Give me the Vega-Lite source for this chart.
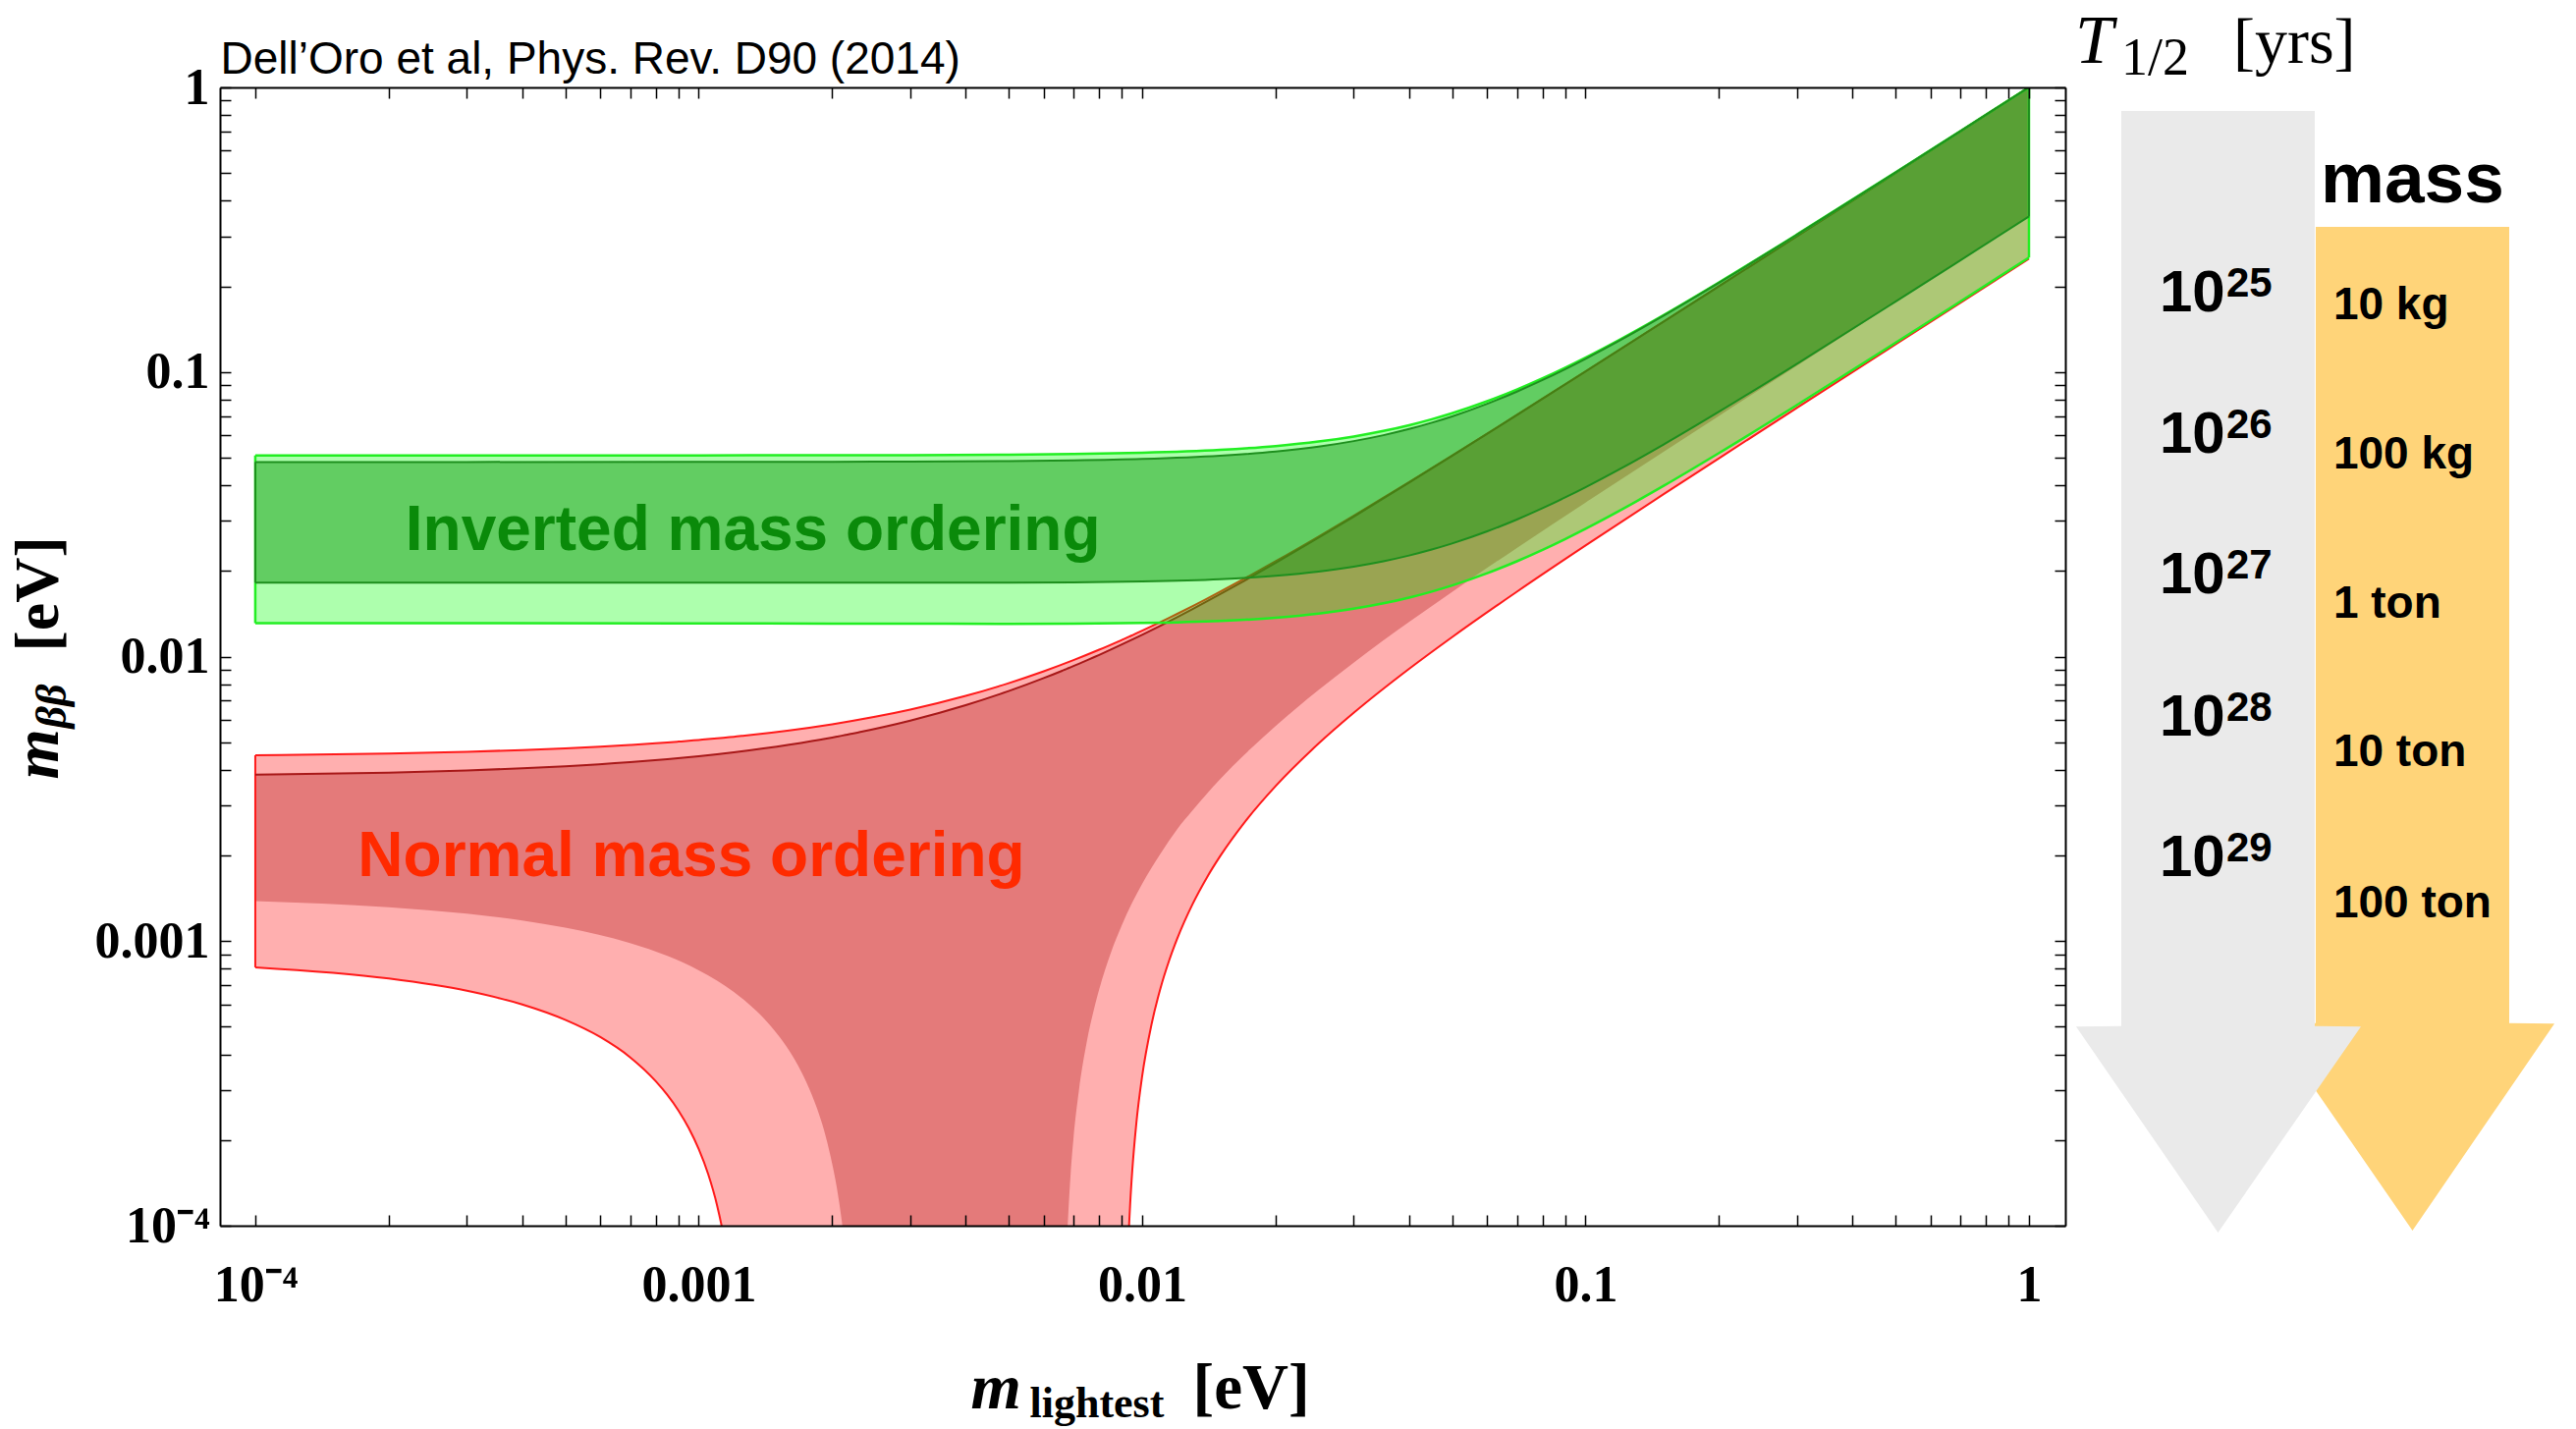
{
  "$schema": "https://vega.github.io/schema/vega-lite/v6.json",
  "width": 1879,
  "height": 1159,
  "autosize": {"type": "none"},
  "padding": {"left": 224, "top": 89, "right": 520, "bottom": 207},
  "background": "white",
  "config": {"axis": {"grid": false}, "view": {"stroke": null}},
  "datasets": {
    "noLight": [
      {"mLight": 0.0001, "lo": 0.000809, "hi": 0.0045},
      {"mLight": 0.0002, "lo": 0.000739, "hi": 0.004563},
      {"mLight": 0.0003, "lo": 0.000669, "hi": 0.004628},
      {"mLight": 0.0004, "lo": 0.000599, "hi": 0.004693},
      {"mLight": 0.0005, "lo": 0.000529, "hi": 0.004758},
      {"mLight": 0.0006, "lo": 0.00046, "hi": 0.004824},
      {"mLight": 0.0007, "lo": 0.000391, "hi": 0.004891},
      {"mLight": 0.0008, "lo": 0.000322, "hi": 0.004956},
      {"mLight": 0.00085, "lo": 0.000288, "hi": 0.00499},
      {"mLight": 0.0009, "lo": 0.000254, "hi": 0.005024},
      {"mLight": 0.00095, "lo": 0.00022, "hi": 0.005057},
      {"mLight": 0.001, "lo": 0.000186, "hi": 0.005092},
      {"mLight": 0.00105, "lo": 0.000152, "hi": 0.005125},
      {"mLight": 0.0011, "lo": 0.000118, "hi": 0.005159},
      {"mLight": 0.00115, "lo": 0.000084, "hi": 0.005193},
      {"mLight": 0.001175, "lo": 0.000067, "hi": 0.00521},
      {"mLight": 0.0012, "lo": 0.00005, "hi": 0.005227},
      {"mLight": 0.00125, "lo": 0.000017, "hi": 0.005261},
      {"mLight": 0.00127, "lo": 0.0000036, "hi": 0.005275},
      {"mLight": 0.0013, "lo": 0.000001, "hi": 0.005295},
      {"mLight": 0.0016, "lo": 0.000001, "hi": 0.005502},
      {"mLight": 0.002, "lo": 0.000001, "hi": 0.005783},
      {"mLight": 0.0025, "lo": 0.000001, "hi": 0.006143},
      {"mLight": 0.003, "lo": 0.000001, "hi": 0.006511},
      {"mLight": 0.004, "lo": 0.000001, "hi": 0.007272},
      {"mLight": 0.005, "lo": 0.000001, "hi": 0.008062},
      {"mLight": 0.006, "lo": 0.000001, "hi": 0.008876},
      {"mLight": 0.007, "lo": 0.000001, "hi": 0.009714},
      {"mLight": 0.008, "lo": 0.000001, "hi": 0.010569},
      {"mLight": 0.009, "lo": 0.000001, "hi": 0.011442},
      {"mLight": 0.0091, "lo": 0.000011, "hi": 0.011529},
      {"mLight": 0.0092, "lo": 0.000047, "hi": 0.011617},
      {"mLight": 0.0093, "lo": 0.000084, "hi": 0.011705},
      {"mLight": 0.0094, "lo": 0.00012, "hi": 0.011794},
      {"mLight": 0.0095, "lo": 0.000156, "hi": 0.011882},
      {"mLight": 0.0097, "lo": 0.000228, "hi": 0.01206},
      {"mLight": 0.01, "lo": 0.000335, "hi": 0.012326},
      {"mLight": 0.0105, "lo": 0.00051, "hi": 0.012774},
      {"mLight": 0.011, "lo": 0.000683, "hi": 0.013224},
      {"mLight": 0.0115, "lo": 0.000853, "hi": 0.013676},
      {"mLight": 0.012, "lo": 0.001021, "hi": 0.014131},
      {"mLight": 0.013, "lo": 0.001351, "hi": 0.015047},
      {"mLight": 0.014, "lo": 0.001674, "hi": 0.01597},
      {"mLight": 0.015, "lo": 0.00199, "hi": 0.016899},
      {"mLight": 0.017, "lo": 0.002609, "hi": 0.018774},
      {"mLight": 0.02, "lo": 0.003506, "hi": 0.021618},
      {"mLight": 0.025, "lo": 0.004946, "hi": 0.026413},
      {"mLight": 0.03, "lo": 0.006342, "hi": 0.031256},
      {"mLight": 0.04, "lo": 0.009054, "hi": 0.041027},
      {"mLight": 0.05, "lo": 0.011702, "hi": 0.050866},
      {"mLight": 0.07, "lo": 0.016897, "hi": 0.070656},
      {"mLight": 0.1, "lo": 0.024562, "hi": 0.100477},
      {"mLight": 0.15, "lo": 0.037201, "hi": 0.150325},
      {"mLight": 0.2, "lo": 0.049774, "hi": 0.200246},
      {"mLight": 0.3, "lo": 0.074848, "hi": 0.300165},
      {"mLight": 0.5, "lo": 0.124909, "hi": 0.500099},
      {"mLight": 0.7, "lo": 0.174935, "hi": 0.700071},
      {"mLight": 1, "lo": 0.249954, "hi": 1.00005}
    ],
    "noDark": [
      {"mLight": 0.0001, "lo": 0.001382, "hi": 0.003843},
      {"mLight": 0.0002, "lo": 0.001315, "hi": 0.003911},
      {"mLight": 0.0003, "lo": 0.001248, "hi": 0.00398},
      {"mLight": 0.0004, "lo": 0.0011814, "hi": 0.004048},
      {"mLight": 0.0005, "lo": 0.001115, "hi": 0.004117},
      {"mLight": 0.0007, "lo": 0.000985, "hi": 0.004257},
      {"mLight": 0.00085, "lo": 0.000887, "hi": 0.004362},
      {"mLight": 0.001, "lo": 0.00079, "hi": 0.004468},
      {"mLight": 0.0011, "lo": 0.0007264, "hi": 0.004539},
      {"mLight": 0.0012, "lo": 0.000663, "hi": 0.004611},
      {"mLight": 0.0013, "lo": 0.0005995, "hi": 0.004683},
      {"mLight": 0.0014, "lo": 0.000537, "hi": 0.004755},
      {"mLight": 0.0015, "lo": 0.0004739, "hi": 0.004827},
      {"mLight": 0.0016, "lo": 0.000412, "hi": 0.0049},
      {"mLight": 0.0017, "lo": 0.0003496, "hi": 0.004973},
      {"mLight": 0.0018, "lo": 0.000288, "hi": 0.005046},
      {"mLight": 0.0019, "lo": 0.000227, "hi": 0.005121},
      {"mLight": 0.002, "lo": 0.000165, "hi": 0.005195},
      {"mLight": 0.00205, "lo": 0.0001353, "hi": 0.005232},
      {"mLight": 0.0021, "lo": 0.000105, "hi": 0.005269},
      {"mLight": 0.00215, "lo": 0.0000748, "hi": 0.005307},
      {"mLight": 0.0022, "lo": 0.000045, "hi": 0.005345},
      {"mLight": 0.00225, "lo": 0.000014, "hi": 0.005382},
      {"mLight": 0.0023, "lo": 0.000001, "hi": 0.00542},
      {"mLight": 0.003, "lo": 0.000001, "hi": 0.005954},
      {"mLight": 0.004, "lo": 0.000001, "hi": 0.006746},
      {"mLight": 0.005, "lo": 0.000001, "hi": 0.007562},
      {"mLight": 0.006, "lo": 0.000001, "hi": 0.008401},
      {"mLight": 0.0066, "lo": 0.000001, "hi": 0.008914},
      {"mLight": 0.00665, "lo": 0.0000309, "hi": 0.0089573},
      {"mLight": 0.0067, "lo": 0.000056, "hi": 0.009},
      {"mLight": 0.00675, "lo": 0.0000798, "hi": 0.0090436},
      {"mLight": 0.0068, "lo": 0.000103, "hi": 0.009087},
      {"mLight": 0.0069, "lo": 0.0001528, "hi": 0.0091732},
      {"mLight": 0.007, "lo": 0.000202, "hi": 0.00926},
      {"mLight": 0.0072, "lo": 0.0002977, "hi": 0.0094339},
      {"mLight": 0.0075, "lo": 0.000442, "hi": 0.009696},
      {"mLight": 0.0078, "lo": 0.000583, "hi": 0.0099594},
      {"mLight": 0.008, "lo": 0.000676, "hi": 0.010136},
      {"mLight": 0.0085, "lo": 0.0009094, "hi": 0.0105792},
      {"mLight": 0.009, "lo": 0.001138, "hi": 0.011026},
      {"mLight": 0.01, "lo": 0.001588, "hi": 0.011928},
      {"mLight": 0.011, "lo": 0.0020272, "hi": 0.0128404},
      {"mLight": 0.012, "lo": 0.002474, "hi": 0.013762},
      {"mLight": 0.013, "lo": 0.0028808, "hi": 0.01469},
      {"mLight": 0.015, "lo": 0.003709, "hi": 0.016565},
      {"mLight": 0.017, "lo": 0.0045174, "hi": 0.0184598},
      {"mLight": 0.02, "lo": 0.005703, "hi": 0.021329},
      {"mLight": 0.025, "lo": 0.0076325, "hi": 0.0261575},
      {"mLight": 0.03, "lo": 0.009522, "hi": 0.031026},
      {"mLight": 0.04, "lo": 0.0132269, "hi": 0.0408371},
      {"mLight": 0.05, "lo": 0.016875, "hi": 0.050705},
      {"mLight": 0.07, "lo": 0.024079, "hi": 0.070533},
      {"mLight": 0.1, "lo": 0.034774, "hi": 0.100386},
      {"mLight": 0.15, "lo": 0.052477, "hi": 0.150263},
      {"mLight": 0.2, "lo": 0.070121, "hi": 0.2002},
      {"mLight": 0.3, "lo": 0.105346, "hi": 0.300134},
      {"mLight": 0.5, "lo": 0.175719, "hi": 0.500081},
      {"mLight": 0.7, "lo": 0.246063, "hi": 0.700057},
      {"mLight": 1, "lo": 0.35156, "hi": 1.00004}
    ],
    "ioLight": [
      {"mLight": 0.0001, "lo": 0.013098, "hi": 0.050905},
      {"mLight": 0.0003, "lo": 0.013092, "hi": 0.05091},
      {"mLight": 0.001, "lo": 0.013075, "hi": 0.050931},
      {"mLight": 0.002, "lo": 0.013056, "hi": 0.050977},
      {"mLight": 0.003, "lo": 0.013043, "hi": 0.051042},
      {"mLight": 0.005, "lo": 0.013035, "hi": 0.05123},
      {"mLight": 0.007, "lo": 0.01305, "hi": 0.051491},
      {"mLight": 0.01, "lo": 0.013116, "hi": 0.052022},
      {"mLight": 0.015, "lo": 0.013337, "hi": 0.053262},
      {"mLight": 0.02, "lo": 0.013687, "hi": 0.054921},
      {"mLight": 0.025, "lo": 0.014153, "hi": 0.056964},
      {"mLight": 0.03, "lo": 0.014722, "hi": 0.059353},
      {"mLight": 0.035, "lo": 0.01538, "hi": 0.06205},
      {"mLight": 0.04, "lo": 0.016115, "hi": 0.065016},
      {"mLight": 0.045, "lo": 0.016916, "hi": 0.068218},
      {"mLight": 0.05, "lo": 0.017773, "hi": 0.071625},
      {"mLight": 0.06, "lo": 0.019624, "hi": 0.078944},
      {"mLight": 0.07, "lo": 0.021615, "hi": 0.086796},
      {"mLight": 0.08, "lo": 0.02371, "hi": 0.09505},
      {"mLight": 0.09, "lo": 0.025882, "hi": 0.103611},
      {"mLight": 0.1, "lo": 0.028113, "hi": 0.11241},
      {"mLight": 0.12, "lo": 0.032703, "hi": 0.130524},
      {"mLight": 0.15, "lo": 0.039796, "hi": 0.158547},
      {"mLight": 0.2, "lo": 0.051912, "hi": 0.206489},
      {"mLight": 0.3, "lo": 0.076615, "hi": 0.304366},
      {"mLight": 0.5, "lo": 0.126612, "hi": 0.502632},
      {"mLight": 0.7, "lo": 0.176837, "hi": 0.701883},
      {"mLight": 1, "lo": 0.252306, "hi": 1.001319}
    ],
    "ioDark": [
      {"mLight": 0.0001, "lo": 0.0182, "hi": 0.048272},
      {"mLight": 0.0003, "lo": 0.018196, "hi": 0.048278},
      {"mLight": 0.001, "lo": 0.018183, "hi": 0.048303},
      {"mLight": 0.002, "lo": 0.018171, "hi": 0.048356},
      {"mLight": 0.003, "lo": 0.018167, "hi": 0.048429},
      {"mLight": 0.005, "lo": 0.018181, "hi": 0.048633},
      {"mLight": 0.007, "lo": 0.018226, "hi": 0.048916},
      {"mLight": 0.01, "lo": 0.01835, "hi": 0.049482},
      {"mLight": 0.015, "lo": 0.018701, "hi": 0.050795},
      {"mLight": 0.02, "lo": 0.019219, "hi": 0.05254},
      {"mLight": 0.025, "lo": 0.01989, "hi": 0.054679},
      {"mLight": 0.03, "lo": 0.020696, "hi": 0.057169},
      {"mLight": 0.035, "lo": 0.021621, "hi": 0.059966},
      {"mLight": 0.04, "lo": 0.02265, "hi": 0.063033},
      {"mLight": 0.045, "lo": 0.023768, "hi": 0.066332},
      {"mLight": 0.05, "lo": 0.024962, "hi": 0.069832},
      {"mLight": 0.06, "lo": 0.027537, "hi": 0.077322},
      {"mLight": 0.07, "lo": 0.030305, "hi": 0.085325},
      {"mLight": 0.08, "lo": 0.033218, "hi": 0.093709},
      {"mLight": 0.09, "lo": 0.03624, "hi": 0.102382},
      {"mLight": 0.1, "lo": 0.039344, "hi": 0.111278},
      {"mLight": 0.12, "lo": 0.045734, "hi": 0.129551},
      {"mLight": 0.15, "lo": 0.055612, "hi": 0.157748},
      {"mLight": 0.2, "lo": 0.072497, "hi": 0.205876},
      {"mLight": 0.3, "lo": 0.106943, "hi": 0.30395},
      {"mLight": 0.5, "lo": 0.176681, "hi": 0.50238},
      {"mLight": 0.7, "lo": 0.24675, "hi": 0.701702},
      {"mLight": 1, "lo": 0.352041, "hi": 1.001192}
    ],
    "arrows": [
      {"arrow": "halfLife", "m": 0.8264, "left": 0.5025, "right": 1.4975},
      {"arrow": "halfLife", "m": 0.000503, "left": 0.5025, "right": 1.4975},
      {"arrow": "halfLife", "m": 0.000501, "left": 0.27, "right": 1.735},
      {"arrow": "halfLife", "m": 0.0000946, "left": 1.0, "right": 1.0},
      {"arrow": "mass", "m": 0.3237, "left": 1.5025, "right": 2.4975},
      {"arrow": "mass", "m": 0.000515, "left": 1.5025, "right": 2.4975},
      {"arrow": "mass", "m": 0.000513, "left": 1.265, "right": 2.73},
      {"arrow": "mass", "m": 0.0000961, "left": 2.0, "right": 2.0}
    ],
    "halfLife": [
      {"base": "10", "exp": "25", "m": 0.188},
      {"base": "10", "exp": "26", "m": 0.0599},
      {"base": "10", "exp": "27", "m": 0.01926},
      {"base": "10", "exp": "28", "m": 0.00607},
      {"base": "10", "exp": "29", "m": 0.001956}
    ],
    "isotopeMass": [
      {"label": "10 kg", "m": 0.172},
      {"label": "100 kg", "m": 0.051},
      {"label": "1 ton", "m": 0.01532},
      {"label": "10 ton", "m": 0.00459},
      {"label": "100 ton", "m": 0.00135}
    ]
  },
  "resolve": {"scale": {"x": "independent"}, "axis": {"x": "independent", "y": "independent"}},
  "layer": [
    {
      "resolve": {"axis": {"x": "independent", "y": "independent"}},
      "layer": [
        {
          "data": {"name": "noLight"},
          "mark": {"type": "area", "color": "#ffafaf", "clip": true, "interpolate": "monotone"},
          "encoding": {
            "x": {"field": "mLight", "type": "quantitative",
              "scale": {"type": "log", "domain": [0.00008325, 1.2077], "nice": false},
              "axis": {"orient": "bottom",
                "values": [0.0001,0.0002,0.0003,0.0004,0.0005,0.0006,0.0007,0.0008,0.0009,0.001,0.002,0.003,0.004,0.005,0.006,0.007,0.008,0.009,0.01,0.02,0.03,0.04,0.05,0.06,0.07,0.08,0.09,0.1,0.2,0.3,0.4,0.5,0.6,0.7,0.8,0.9,1],
                "labelExpr": "datum.value == 0.0001 ? '10⁻⁴' : datum.value == 0.001 ? '0.001' : datum.value == 0.01 ? '0.01' : datum.value == 0.1 ? '0.1' : datum.value == 1 ? '1' : ''",
                "labelFont": "Liberation Serif", "labelFontWeight": "bold", "labelFontSize": 52, "labelColor": "#000000",
                "labelPadding": 46, "labelBaseline": "top", "labelAlign": "center",
                "labelFlush": false, "labelOverlap": false, "labelBound": false,
                "tickSize": -11, "tickWidth": 1.5, "tickColor": "#000000",
                "domainColor": "#000000", "domainWidth": 2, "zindex": 2,
                "title": "m", "titleFont": "Liberation Serif", "titleFontStyle": "italic", "titleFontWeight": "bold",
                "titleFontSize": 66, "titleColor": "#000000", "titleX": 764, "titleY": 185,
                "titleAlign": "left", "titleBaseline": "alphabetic"}},
            "y": {"field": "lo", "type": "quantitative",
              "scale": {"type": "log", "domain": [0.0001, 1], "nice": false},
              "axis": {"orient": "left",
                "values": [0.0001,0.0002,0.0003,0.0004,0.0005,0.0006,0.0007,0.0008,0.0009,0.001,0.002,0.003,0.004,0.005,0.006,0.007,0.008,0.009,0.01,0.02,0.03,0.04,0.05,0.06,0.07,0.08,0.09,0.1,0.2,0.3,0.4,0.5,0.6,0.7,0.8,0.9,1],
                "labelExpr": "datum.value == 0.0001 ? '10⁻⁴' : datum.value == 0.001 ? '0.001' : datum.value == 0.01 ? '0.01' : datum.value == 0.1 ? '0.1' : datum.value == 1 ? '1' : ''",
                "labelFont": "Liberation Serif", "labelFontWeight": "bold", "labelFontSize": 52, "labelColor": "#000000",
                "labelPadding": 22, "labelAlign": "right", "labelBaseline": "middle",
                "labelFlush": false, "labelOverlap": false, "labelBound": false,
                "tickSize": -11, "tickWidth": 1.5, "tickColor": "#000000",
                "domainColor": "#000000", "domainWidth": 2, "zindex": 2,
                "title": "m", "titleFont": "Liberation Serif", "titleFontStyle": "italic", "titleFontWeight": "bold",
                "titleFontSize": 66, "titleColor": "#000000", "titleAngle": 270, "titleX": -166, "titleY": 704,
                "titleAlign": "left", "titleBaseline": "alphabetic"}},
            "y2": {"field": "hi"}
          }
        },
        {
          "data": {"name": "noDark"},
          "mark": {"type": "area", "color": "#e47a7a", "clip": true, "interpolate": "monotone"},
          "encoding": {
            "x": {"field": "mLight", "type": "quantitative",
              "scale": {"type": "log", "domain": [0.00008325, 1.2077], "nice": false},
              "axis": {"orient": "top",
                "values": [0.0001,0.0002,0.0003,0.0004,0.0005,0.0006,0.0007,0.0008,0.0009,0.001,0.002,0.003,0.004,0.005,0.006,0.007,0.008,0.009,0.01,0.02,0.03,0.04,0.05,0.06,0.07,0.08,0.09,0.1,0.2,0.3,0.4,0.5,0.6,0.7,0.8,0.9,1],
                "labels": false, "tickSize": -11, "tickWidth": 1.5, "tickColor": "#000000",
                "domainColor": "#000000", "domainWidth": 2, "zindex": 2,
                "title": "Dell’Oro et al, Phys. Rev. D90 (2014)",
                "titleFont": "Liberation Sans", "titleFontWeight": "normal", "titleFontSize": 46, "titleColor": "#000000",
                "titleX": 0, "titleY": -15, "titleAlign": "left", "titleBaseline": "alphabetic"}},
            "y": {"field": "lo", "type": "quantitative",
              "scale": {"type": "log", "domain": [0.0001, 1], "nice": false},
              "axis": {"orient": "right",
                "values": [0.0001,0.0002,0.0003,0.0004,0.0005,0.0006,0.0007,0.0008,0.0009,0.001,0.002,0.003,0.004,0.005,0.006,0.007,0.008,0.009,0.01,0.02,0.03,0.04,0.05,0.06,0.07,0.08,0.09,0.1,0.2,0.3,0.4,0.5,0.6,0.7,0.8,0.9,1],
                "labels": false, "tickSize": -11, "tickWidth": 1.5, "tickColor": "#000000",
                "domainColor": "#000000", "domainWidth": 2, "zindex": 2, "title": null}},
            "y2": {"field": "hi"}
          }
        },
        {
          "data": {"name": "noLight"},
          "mark": {"type": "line", "color": "#ff1a1a", "strokeWidth": 2, "clip": true, "interpolate": "monotone"},
          "encoding": {
            "x": {"field": "mLight", "type": "quantitative", "scale": {"type": "log", "domain": [0.00008325, 1.2077], "nice": false}, "axis": null},
            "y": {"field": "hi", "type": "quantitative", "scale": {"type": "log", "domain": [0.0001, 1], "nice": false}, "axis": null}
          }
        },
        {
          "data": {"name": "noLight"},
          "mark": {"type": "line", "color": "#ff1a1a", "strokeWidth": 2, "clip": true, "interpolate": "monotone"},
          "encoding": {
            "x": {"field": "mLight", "type": "quantitative", "scale": {"type": "log", "domain": [0.00008325, 1.2077], "nice": false}, "axis": null},
            "y": {"field": "lo", "type": "quantitative", "scale": {"type": "log", "domain": [0.0001, 1], "nice": false}, "axis": null}
          }
        },
        {
          "data": {"name": "noLight"},
          "transform": [{"filter": "datum.mLight == 0.0001"}],
          "mark": {"type": "rule", "color": "#ff1a1a", "strokeWidth": 2, "clip": true},
          "encoding": {
            "x": {"field": "mLight", "type": "quantitative", "scale": {"type": "log", "domain": [0.00008325, 1.2077], "nice": false}, "axis": null},
            "y": {"field": "lo", "type": "quantitative", "scale": {"type": "log", "domain": [0.0001, 1], "nice": false}, "axis": null},
            "y2": {"field": "hi"}
          }
        },
        {
          "data": {"name": "noDark"},
          "mark": {"type": "line", "color": "#a81818", "strokeWidth": 2, "clip": true, "interpolate": "monotone"},
          "encoding": {
            "x": {"field": "mLight", "type": "quantitative", "scale": {"type": "log", "domain": [0.00008325, 1.2077], "nice": false}, "axis": null},
            "y": {"field": "hi", "type": "quantitative", "scale": {"type": "log", "domain": [0.0001, 1], "nice": false}, "axis": null}
          }
        },
        {
          "data": {"name": "ioLight"},
          "mark": {"type": "area", "color": "#00ff00", "opacity": 0.32, "clip": true, "interpolate": "monotone"},
          "encoding": {
            "x": {"field": "mLight", "type": "quantitative",
              "scale": {"type": "log", "domain": [0.00008325, 1.2077], "nice": false},
              "axis": {"orient": "bottom", "domain": false, "ticks": false, "labels": false,
                "title": "lightest", "titleFont": "Liberation Serif", "titleFontWeight": "bold",
                "titleFontSize": 44, "titleColor": "#000000", "titleX": 824, "titleY": 194,
                "titleAlign": "left", "titleBaseline": "alphabetic"}},
            "y": {"field": "lo", "type": "quantitative",
              "scale": {"type": "log", "domain": [0.0001, 1], "nice": false},
              "axis": {"orient": "left", "domain": false, "ticks": false, "labels": false,
                "title": "ββ", "titleFont": "Liberation Serif", "titleFontStyle": "italic", "titleFontWeight": "bold",
                "titleFontSize": 44, "titleColor": "#000000", "titleAngle": 270, "titleX": -158, "titleY": 652,
                "titleAlign": "left", "titleBaseline": "alphabetic"}},
            "y2": {"field": "hi"}
          }
        },
        {
          "data": {"name": "ioDark"},
          "mark": {"type": "area", "color": "#179b17", "opacity": 0.5, "clip": true, "interpolate": "monotone"},
          "encoding": {
            "x": {"field": "mLight", "type": "quantitative",
              "scale": {"type": "log", "domain": [0.00008325, 1.2077], "nice": false},
              "axis": {"orient": "bottom", "domain": false, "ticks": false, "labels": false,
                "title": "[eV]", "titleFont": "Liberation Serif", "titleFontWeight": "bold",
                "titleFontSize": 65, "titleColor": "#000000", "titleX": 990, "titleY": 185,
                "titleAlign": "left", "titleBaseline": "alphabetic"}},
            "y": {"field": "lo", "type": "quantitative",
              "scale": {"type": "log", "domain": [0.0001, 1], "nice": false},
              "axis": {"orient": "left", "domain": false, "ticks": false, "labels": false,
                "title": "[eV]", "titleFont": "Liberation Serif", "titleFontWeight": "bold",
                "titleFontSize": 64, "titleColor": "#000000", "titleAngle": 270, "titleX": -166, "titleY": 574,
                "titleAlign": "left", "titleBaseline": "alphabetic"}},
            "y2": {"field": "hi"}
          }
        },
        {
          "data": {"name": "ioLight"},
          "mark": {"type": "line", "color": "#22ee22", "strokeWidth": 2.5, "clip": true, "interpolate": "monotone"},
          "encoding": {
            "x": {"field": "mLight", "type": "quantitative", "scale": {"type": "log", "domain": [0.00008325, 1.2077], "nice": false}, "axis": null},
            "y": {"field": "hi", "type": "quantitative", "scale": {"type": "log", "domain": [0.0001, 1], "nice": false}, "axis": null}
          }
        },
        {
          "data": {"name": "ioLight"},
          "mark": {"type": "line", "color": "#22ee22", "strokeWidth": 2.5, "clip": true, "interpolate": "monotone"},
          "encoding": {
            "x": {"field": "mLight", "type": "quantitative", "scale": {"type": "log", "domain": [0.00008325, 1.2077], "nice": false}, "axis": null},
            "y": {"field": "lo", "type": "quantitative", "scale": {"type": "log", "domain": [0.0001, 1], "nice": false}, "axis": null}
          }
        },
        {
          "data": {"name": "ioLight"},
          "transform": [{"filter": "datum.mLight == 0.0001 || datum.mLight == 1"}],
          "mark": {"type": "rule", "color": "#22ee22", "strokeWidth": 2.5, "clip": true},
          "encoding": {
            "x": {"field": "mLight", "type": "quantitative", "scale": {"type": "log", "domain": [0.00008325, 1.2077], "nice": false}, "axis": null},
            "y": {"field": "lo", "type": "quantitative", "scale": {"type": "log", "domain": [0.0001, 1], "nice": false}, "axis": null},
            "y2": {"field": "hi"}
          }
        },
        {
          "data": {"name": "ioDark"},
          "mark": {"type": "line", "color": "#1e8f1e", "strokeWidth": 2, "clip": true, "interpolate": "monotone"},
          "encoding": {
            "x": {"field": "mLight", "type": "quantitative", "scale": {"type": "log", "domain": [0.00008325, 1.2077], "nice": false}, "axis": null},
            "y": {"field": "hi", "type": "quantitative", "scale": {"type": "log", "domain": [0.0001, 1], "nice": false}, "axis": null}
          }
        },
        {
          "data": {"name": "ioDark"},
          "mark": {"type": "line", "color": "#1e8f1e", "strokeWidth": 2, "clip": true, "interpolate": "monotone"},
          "encoding": {
            "x": {"field": "mLight", "type": "quantitative", "scale": {"type": "log", "domain": [0.00008325, 1.2077], "nice": false}, "axis": null},
            "y": {"field": "lo", "type": "quantitative", "scale": {"type": "log", "domain": [0.0001, 1], "nice": false}, "axis": null}
          }
        },
        {
          "data": {"name": "ioDark"},
          "transform": [{"filter": "datum.mLight == 0.0001 || datum.mLight == 1"}],
          "mark": {"type": "rule", "color": "#1e8f1e", "strokeWidth": 2, "clip": true},
          "encoding": {
            "x": {"field": "mLight", "type": "quantitative", "scale": {"type": "log", "domain": [0.00008325, 1.2077], "nice": false}, "axis": null},
            "y": {"field": "lo", "type": "quantitative", "scale": {"type": "log", "domain": [0.0001, 1], "nice": false}, "axis": null},
            "y2": {"field": "hi"}
          }
        },
        {
          "data": {"values": [{}]},
          "mark": {"type": "text", "text": "Inverted mass ordering", "font": "Liberation Sans", "fontWeight": "bold",
            "fontSize": 64, "color": "#0a8a0a", "align": "left", "baseline": "alphabetic"},
          "encoding": {
            "x": {"datum": 0.000218, "type": "quantitative", "scale": {"type": "log", "domain": [0.00008325, 1.2077], "nice": false}, "axis": null},
            "y": {"datum": 0.0236, "type": "quantitative", "scale": {"type": "log", "domain": [0.0001, 1], "nice": false}, "axis": null}
          }
        },
        {
          "data": {"values": [{}]},
          "mark": {"type": "text", "text": "Normal mass ordering", "font": "Liberation Sans", "fontWeight": "bold",
            "fontSize": 64, "color": "#ff2a00", "align": "left", "baseline": "alphabetic"},
          "encoding": {
            "x": {"datum": 0.0001703, "type": "quantitative", "scale": {"type": "log", "domain": [0.00008325, 1.2077], "nice": false}, "axis": null},
            "y": {"datum": 0.00169, "type": "quantitative", "scale": {"type": "log", "domain": [0.0001, 1], "nice": false}, "axis": null}
          }
        }
      ]
    },
    {
      "layer": [
        {
          "data": {"name": "arrows"},
          "transform": [{"filter": "datum.arrow == 'mass'"}],
          "mark": {"type": "area", "orient": "horizontal", "color": "#ffd479"},
          "encoding": {
            "y": {"field": "m", "type": "quantitative", "scale": {"type": "log", "domain": [0.0001, 1], "nice": false}, "axis": null},
            "x": {"field": "left", "type": "quantitative", "scale": {"domain": [0, 3], "range": [1836.5, 2430.5], "nice": false, "zero": false}, "axis": null},
            "x2": {"field": "right"}
          }
        },
        {
          "data": {"name": "arrows"},
          "transform": [{"filter": "datum.arrow == 'halfLife'"}],
          "mark": {"type": "area", "orient": "horizontal", "color": "#eaeaea"},
          "encoding": {
            "y": {"field": "m", "type": "quantitative", "scale": {"type": "log", "domain": [0.0001, 1], "nice": false}, "axis": null},
            "x": {"field": "left", "type": "quantitative", "scale": {"domain": [0, 3], "range": [1836.5, 2430.5], "nice": false, "zero": false}, "axis": null},
            "x2": {"field": "right"}
          }
        },
        {
          "data": {"name": "halfLife"},
          "mark": {"type": "text", "font": "Liberation Sans", "fontWeight": "bold", "fontSize": 60, "color": "#000000", "align": "left", "baseline": "middle"},
          "encoding": {
            "y": {"field": "m", "type": "quantitative", "scale": {"type": "log", "domain": [0.0001, 1], "nice": false}, "axis": null},
            "x": {"datum": 0.6995, "type": "quantitative", "scale": {"domain": [0, 3], "range": [1836.5, 2430.5], "nice": false, "zero": false}, "axis": null},
            "text": {"field": "base"}
          }
        },
        {
          "data": {"name": "halfLife"},
          "mark": {"type": "text", "font": "Liberation Sans", "fontWeight": "bold", "fontSize": 42, "color": "#000000", "align": "left", "baseline": "middle", "dy": -10},
          "encoding": {
            "y": {"field": "m", "type": "quantitative", "scale": {"type": "log", "domain": [0.0001, 1], "nice": false}, "axis": null},
            "x": {"datum": 1.043, "type": "quantitative", "scale": {"domain": [0, 3], "range": [1836.5, 2430.5], "nice": false, "zero": false}, "axis": null},
            "text": {"field": "exp"}
          }
        },
        {
          "data": {"name": "isotopeMass"},
          "mark": {"type": "text", "font": "Liberation Sans", "fontWeight": "bold", "fontSize": 46, "color": "#000000", "align": "left", "baseline": "middle"},
          "encoding": {
            "y": {"field": "m", "type": "quantitative", "scale": {"type": "log", "domain": [0.0001, 1], "nice": false}, "axis": null},
            "x": {"datum": 1.593, "type": "quantitative", "scale": {"domain": [0, 3], "range": [1836.5, 2430.5], "nice": false, "zero": false}, "axis": null},
            "text": {"field": "label"}
          }
        },
        {
          "data": {"values": [{}]},
          "mark": {"type": "text", "text": "mass", "font": "Liberation Sans", "fontWeight": "bold", "fontSize": 73, "color": "#000000", "align": "left", "baseline": "alphabetic"},
          "encoding": {
            "y": {"datum": 0.395, "type": "quantitative", "scale": {"type": "log", "domain": [0.0001, 1], "nice": false}, "axis": null},
            "x": {"datum": 1.528, "type": "quantitative", "scale": {"domain": [0, 3], "range": [1836.5, 2430.5], "nice": false, "zero": false}, "axis": null}
          }
        },
        {
          "data": {"values": [{}]},
          "mark": {"type": "text", "text": "T", "font": "Liberation Serif", "fontStyle": "italic", "fontSize": 70, "color": "#000000", "align": "left", "baseline": "alphabetic"},
          "encoding": {
            "y": {"datum": 1.2194, "type": "quantitative", "scale": {"type": "log", "domain": [0.0001, 1], "nice": false}, "axis": null},
            "x": {"datum": 0.265, "type": "quantitative", "scale": {"domain": [0, 3], "range": [1836.5, 2430.5], "nice": false, "zero": false}, "axis": null}
          }
        },
        {
          "data": {"values": [{}]},
          "mark": {"type": "text", "text": "1/2", "font": "Liberation Serif", "fontSize": 54, "color": "#000000", "align": "left", "baseline": "alphabetic"},
          "encoding": {
            "y": {"datum": 1.109, "type": "quantitative", "scale": {"type": "log", "domain": [0.0001, 1], "nice": false}, "axis": null},
            "x": {"datum": 0.5025, "type": "quantitative", "scale": {"domain": [0, 3], "range": [1836.5, 2430.5], "nice": false, "zero": false}, "axis": null}
          }
        },
        {
          "data": {"values": [{}]},
          "mark": {"type": "text", "text": "[yrs]", "font": "Liberation Serif", "fontSize": 66, "color": "#000000", "align": "left", "baseline": "alphabetic"},
          "encoding": {
            "y": {"datum": 1.2194, "type": "quantitative", "scale": {"type": "log", "domain": [0.0001, 1], "nice": false}, "axis": null},
            "x": {"datum": 1.078, "type": "quantitative", "scale": {"domain": [0, 3], "range": [1836.5, 2430.5], "nice": false, "zero": false}, "axis": null}
          }
        }
      ]
    }
  ]
}
